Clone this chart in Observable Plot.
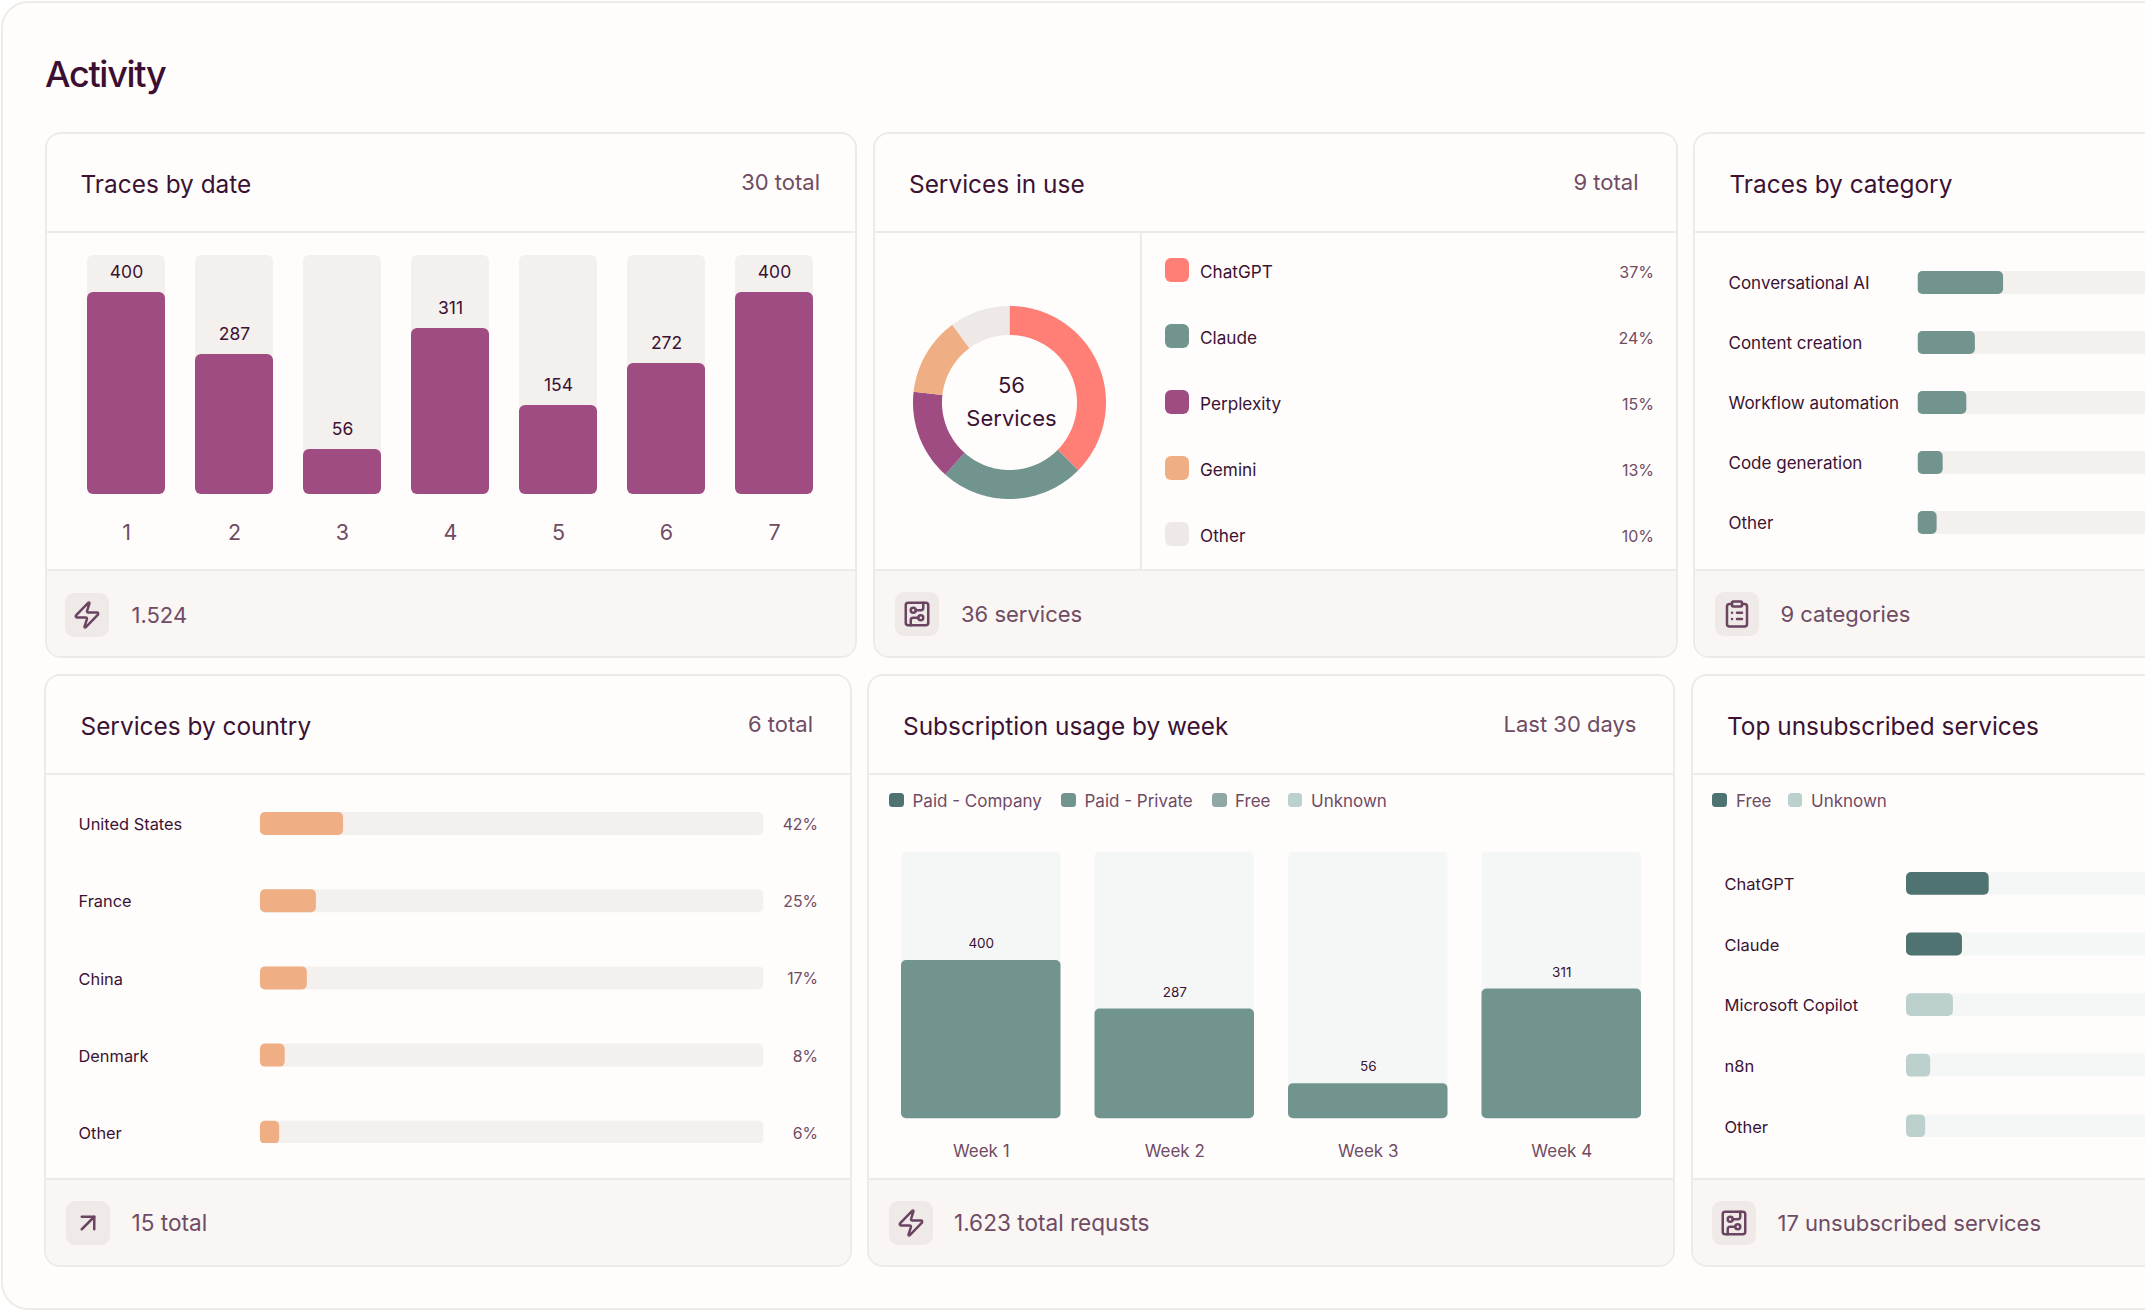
<!DOCTYPE html>
<html lang="en">
<head>
<meta charset="utf-8">
<title>Activity</title>
<script src="https://cdn.jsdelivr.net/npm/d3@7"></script>
<script src="https://cdn.jsdelivr.net/npm/@observablehq/plot@0.6"></script>
<style>
  html, body { margin: 0; padding: 0; width: 2145px; height: 1311px; overflow: hidden; background: #ffffff; }
  body { font-family: Inter, "Noto Sans", sans-serif; color: #3b1233; position: relative; }
  .panel { position: absolute; left: 0.5px; top: 1px; width: 2144.5px; height: 1309px; box-sizing: border-box;
           background: #fffdfb; border: 2px solid #eeeae7; border-right: none; border-radius: 27px 0 0 27px; }
  h1 { position: absolute; left: 45px; top: 50.5px; margin: 0; font-size: 36px; line-height: 46px; font-weight: 500; letter-spacing: -1.3px; color: #3b0f31; }
  .card { position: absolute; box-sizing: border-box; background: #fffdfb; border: 2px solid #eeeae7; border-radius: 16px; overflow: hidden; }
  .card.open { border-right: none; border-radius: 16px 0 0 16px; }
  .footer { position: absolute; left: 0; right: 0; bottom: 0; background: #f9f6f4; border-top: 2px solid #eeeae7; box-sizing: border-box; }
  .rule { position: absolute; left: 0; right: 0; height: 2px; background: #eeeae7; }
  .t { position: absolute; white-space: nowrap; line-height: 1; }
  .title { font-size: 24.4px; color: #3b1233; }
  .note { font-size: 22px; color: #6f4b64; }
  .foot { font-size: 22px; color: #6f4b64; }
  .foot.wide { font-size: 22.6px; }
  .iconbox { position: absolute; width: 44px; height: 44px; border-radius: 9px; background: #efeae8; display: flex; align-items: center; justify-content: center; }
  .iconbox svg { width: 30px; height: 30px; fill: none; stroke: #6a4460; stroke-width: 2; stroke-linecap: round; stroke-linejoin: round; }
  .swatch { position: absolute; }
  .lab { font-size: 17.2px; color: #3b1233; }
  .pct { font-size: 16px; color: #6f4b64; }
  .leg { font-size: 17px; color: #6f4b64; }
  .plot { position: absolute; }
</style>
</head>
<body>
<div class="panel"></div>
<h1>Activity</h1>
<script>
// ---------- data ----------
const dayLabels = ["1", "2", "3", "4", "5", "6", "7"];
const dayValues = [400, 287, 56, 311, 154, 272, 400];
const dayFillPct = [84.5, 58.6, 18.8, 69.5, 37.2, 54.8, 84.5];   // bar height as share of its track

const serviceNames = ["ChatGPT", "Claude", "Perplexity", "Gemini", "Other"];
const serviceShares = [37, 24, 15, 13, 10];
const serviceColors = ["#ff7f77", "#72948f", "#9f4c83", "#efae84", "#eee9e7"];

const categoryNames = ["Conversational AI", "Content creation", "Workflow automation", "Code generation", "Other"];
const categoryFillPct = [17, 11.4, 9.7, 5, 3.8];

const countryNames = ["United States", "France", "China", "Denmark", "Other"];
const countryShares = [42, 25, 17, 8, 6];
const countryFillPct = [16.5, 11.1, 9.3, 4.9, 3.8];

const weekLabels = ["Week 1", "Week 2", "Week 3", "Week 4"];
const weekValues = [400, 287, 56, 311];
const weekFillPct = [59.4, 41.2, 13.2, 48.7];
const usageLegend = ["Paid - Company", "Paid - Private", "Free", "Unknown"];
const usageColors = ["#4f7370", "#72948f", "#8fa8a6", "#bcd0cd"];

const unsubNames = ["ChatGPT", "Claude", "Microsoft Copilot", "n8n", "Other"];
const unsubFillPct = [16.4, 11.1, 9.3, 4.8, 3.8];
const unsubPlans = ["Free", "Free", "Unknown", "Unknown", "Unknown"];
const unsubLegend = ["Free", "Unknown"];
const unsubColors = ["#4f7370", "#bcd0cd"];

// ---------- page furniture ----------
const ICONS = {
  zap: '<path d="M4 14a1 1 0 0 1-.78-1.63l9.9-10.2a.5.5 0 0 1 .86.46l-1.92 6.02A1 1 0 0 0 13 10h7a1 1 0 0 1 .78 1.63l-9.9 10.2a.5.5 0 0 1-.86-.46l1.92-6.02A1 1 0 0 0 11 14z"/>',
  arrow: '<path d="M7 7h10v10"/><path d="M7 17 17 7"/>',
  clip: '<rect x="8" y="2" width="8" height="4" rx="1"/><path d="M16 4h2a2 2 0 0 1 2 2v14a2 2 0 0 1-2 2H6a2 2 0 0 1-2-2V6a2 2 0 0 1 2-2h2"/><path d="M12 11h4"/><path d="M12 16h4"/><path d="M8 11h.01"/><path d="M8 16h.01"/>',
  board: '<rect x="3" y="3" width="18" height="18" rx="2"/><path d="M11 9h4a2 2 0 0 0 2-2V3"/><circle cx="9" cy="9" r="2"/><path d="M7 21v-4a2 2 0 0 1 2-2h4"/><circle cx="15" cy="15" r="2"/>'
};
function text(cls, str, x, cy, right) {
  const d = document.createElement("div");
  d.className = "t " + cls;
  d.textContent = str;
  d.style.top = cy + "px";
  d.style.transform = "translateY(-50%)";
  if (right) d.style.right = (2145 - x) + "px"; else d.style.left = x + "px";
  document.body.appendChild(d);
}
function swatch(x, cy, w, h, r, color) {
  const d = document.createElement("div");
  d.className = "swatch";
  d.style.cssText = `left:${x}px;top:${cy - h / 2}px;width:${w}px;height:${h}px;border-radius:${r}px;background:${color}`;
  document.body.appendChild(d);
}
function card(c) {
  const d = document.createElement("div");
  d.className = "card" + (c.right == null ? " open" : "");
  const right = c.right == null ? 2145 : c.right;
  d.style.cssText = `left:${c.left}px;top:${c.top}px;width:${right - c.left}px;height:${c.bottom - c.top}px`;
  d.innerHTML = `<div class="rule" style="top:${c.headY - c.top - 2}px"></div>
    <div class="footer" style="height:${c.bottom - 2 - c.footY}px"></div>`;
  document.body.appendChild(d);
  text("title", c.title, c.titleX, c.titleY);
  if (c.note) text("note", c.note, c.noteX, c.titleY - 2, true);
  const box = document.createElement("div");
  box.className = "iconbox";
  box.style.left = c.iconX + "px";
  box.style.top = (c.footCy - 22) + "px";
  box.innerHTML = `<svg viewBox="0 0 24 24">${ICONS[c.icon]}</svg>`;
  document.body.appendChild(box);
  text("foot" + (c.wide ? " wide" : ""), c.foot, c.footX, c.footCy);
}
function place(svg, left, top) {
  svg.classList.add("plot");
  svg.style.left = left + "px";
  svg.style.top = top + "px";
  svg.style.background = "transparent";
  document.body.appendChild(svg);
}

// ---------- chart helpers ----------
function columns({labels, values, fill, left, top, width, height, bottom, paddingInner, track, bar, r,
                  valueSize, valueGap, tickSize, tickPad}) {
  const rows = labels.map((k, i) => ({k, v: values[i], f: fill[i]}));
  place(Plot.plot({
    width, height: height + bottom, marginLeft: 0, marginRight: 0, marginTop: 0, marginBottom: bottom,
    style: {fontFamily: "Inter", background: "transparent"},
    x: {type: "band", domain: labels, paddingInner, paddingOuter: 0, round: false, axis: null},
    y: {domain: [0, 100], axis: null},
    marks: [
      Plot.barY(rows, {x: "k", y: () => 100, fill: track, rx: r}),
      Plot.barY(rows, {x: "k", y: "f", fill: bar, rx: r}),
      Plot.text(rows, {x: "k", y: "f", text: d => String(d.v), dy: -valueGap, fill: "#3b1233", fontSize: valueSize}),
      Plot.axisX({anchor: "bottom", tickSize: 0, tickPadding: tickPad, fill: "#6f4b64", fontSize: tickSize, label: null})
    ]
  }), left, top);
}
function hbars({names, fill, pcts, colorBy, domain, range, color, left, top, trackLeft, width, height, paddingInner,
                xMax, track, labelSize, pctSize, pctGap}) {
  const rows = names.map((n, i) => ({n, f: fill[i], p: pcts ? pcts[i] + "%" : null, c: colorBy ? colorBy[i] : null}));
  const marginRight = pctGap || 0;
  const marks = [
    Plot.barX(rows, {y: "n", x: () => 100, fill: track, rx: 5, clip: true}),
    Plot.barX(rows, {y: "n", x: "f", fill: colorBy ? "c" : color, rx: 5, clip: true}),
    Plot.axisY({anchor: "left", tickSize: 0, tickPadding: trackLeft - left, textAnchor: "start", fill: "#3b1233", fontSize: labelSize, label: null, dy: 1})
  ];
  if (pcts) marks.push(Plot.text(rows, {y: "n", text: "p", frameAnchor: "right", dx: pctGap, dy: 1, textAnchor: "end", fill: "#6f4b64", fontSize: pctSize}));
  place(Plot.plot({
    width, height, marginLeft: trackLeft - left, marginRight, marginTop: 0, marginBottom: 0,
    style: {fontFamily: "Inter", background: "transparent"},
    x: {domain: [0, xMax], axis: null},
    y: {type: "band", domain: names, paddingInner, paddingOuter: 0, round: false, axis: null},
    color: colorBy ? {domain, range} : undefined,
    marks
  }), left, top);
}

// ---------- cards ----------
const T1 = 132, B1 = 658, H1 = 231, F1 = 569;
const T2 = 674, B2 = 1266.5, H2 = 773, F2 = 1178;

card({left: 44.5, right: 857, top: T1, bottom: B1, headY: H1, footY: F1, title: "Traces by date", titleX: 80.5, titleY: 184, note: "30 total", noteX: 820, icon: "zap", iconX: 65, footCy: 614.5, foot: "1.524", footX: 131.5});
card({left: 872.5, right: 1678, top: T1, bottom: B1, headY: H1, footY: F1, title: "Services in use", titleX: 909, titleY: 184, note: "9 total", noteX: 1638.5, icon: "board", iconX: 894.5, footCy: 614, foot: "36 services", footX: 961});
card({left: 1692.5, top: T1, bottom: B1, headY: H1, footY: F1, title: "Traces by category", titleX: 1729.5, titleY: 184, icon: "clip", iconX: 1714.5, footCy: 614, foot: "9 categories", footX: 1780.5});
card({left: 44, right: 852, top: T2, bottom: B2, headY: H2, footY: F2, title: "Services by country", titleX: 80.5, titleY: 725.5, note: "6 total", noteX: 813, icon: "arrow", iconX: 65.5, footCy: 1223, foot: "15 total", footX: 131.5, wide: true});
card({left: 867, right: 1675, top: T2, bottom: B2, headY: H2, footY: F2, title: "Subscription usage by week", titleX: 903, titleY: 725.5, note: "Last 30 days", noteX: 1636.5, icon: "zap", iconX: 888.5, footCy: 1223, foot: "1.623 total requsts", footX: 954, wide: true});
card({left: 1691, top: T2, bottom: B2, headY: H2, footY: F2, title: "Top unsubscribed services", titleX: 1727, titleY: 725.5, icon: "board", iconX: 1711.5, footCy: 1223, foot: "17 unsubscribed services", footX: 1777.5});

// divider inside "Services in use"
const divider = document.createElement("div");
divider.style.cssText = "position:absolute;left:1140px;top:232px;width:1.5px;height:338px;background:#eeeae7";
document.body.appendChild(divider);

// Traces by date
columns({labels: dayLabels, values: dayValues, fill: dayFillPct, left: 87.2, top: 255, width: 726, height: 239, bottom: 60,
  paddingInner: 30 / 108, track: "#f4f0ee", bar: "#9f4c83", r: 6, valueSize: 17.5, valueGap: 20, tickSize: 21.5, tickPad: 30.5});

// Services in use: donut through Plot's geo mark, in planar (identity) coordinates
const pieArcs = d3.pie().sort(null).value(d => d)(serviceShares);
const donutSize = 200, outerR = 96.5, innerR = 67.5, mid = donutSize / 2;
const slices = pieArcs.map((a, i) => {
  const n = Math.max(2, Math.ceil((a.endAngle - a.startAngle) * 60));
  const ang = d3.range(n + 1).map(k => a.startAngle + (a.endAngle - a.startAngle) * k / n);
  const ring = [
    ...ang.map(t => [mid + outerR * Math.sin(t), mid - outerR * Math.cos(t)]),
    ...ang.slice().reverse().map(t => [mid + innerR * Math.sin(t), mid - innerR * Math.cos(t)])
  ];
  ring.push(ring[0]);
  return {type: "Feature", properties: {name: serviceNames[i]}, geometry: {type: "Polygon", coordinates: [ring]}};
});
place(Plot.plot({
  width: donutSize, height: donutSize, margin: 0,
  style: {fontFamily: "Inter", background: "transparent"},
  projection: d3.geoIdentity(),
  color: {domain: serviceNames, range: serviceColors},
  marks: [
    Plot.geo(slices, {fill: d => d.properties.name}),
    Plot.text(["56"], {frameAnchor: "middle", text: d => d, dy: -17, dx: 2, fontSize: 22, fill: "#3b1233"}),
    Plot.text(["Services"], {frameAnchor: "middle", text: d => d, dy: 16, dx: 2, fontSize: 22, fill: "#3b1233"})
  ]
}), 908.7, 301.5);

serviceNames.forEach((n, i) => {
  const cy = 270 + i * 66;
  swatch(1164.5, cy, 24, 24, 6, serviceColors[i]);
  text("lab", n, 1200, cy + 1.5);
  text("pct", serviceShares[i] + "%", 1654, cy + 1.5, true);
});

// Traces by category
hbars({names: categoryNames, fill: categoryFillPct, color: "#72948f", left: 1727.5, top: 270.5, trackLeft: 1917, width: 2145 - 1727.5, height: 263,
  paddingInner: 37 / 60, xMax: 45.3, track: "#f4f0ee", labelSize: 17});

// Services by country
hbars({names: countryNames, fill: countryFillPct, pcts: countryShares, color: "#efae84", left: 78, top: 811.5, trackLeft: 260, width: 817.5 - 78, height: 331.8,
  paddingInner: 54.2 / 77.2, xMax: 100, track: "#f4f0ee", labelSize: 16.4, pctSize: 15.8, pctGap: 54});

// Subscription usage by week
[[889, 912.5], [1061, 1084.5], [1212, 1235], [1287.5, 1311]].forEach(([sx, tx], i) => {
  swatch(sx, 800, 14.5, 14.5, 3.5, usageColors[i]);
  text("leg", usageLegend[i], tx, 801);
});
columns({labels: weekLabels, values: weekValues, fill: weekFillPct, left: 900.5, top: 852, width: 740, height: 266.3, bottom: 50,
  paddingInner: 34 / 193.6, track: "#f5f7f7", bar: "#72948f", r: 5, valueSize: 13.5, valueGap: 16.5, tickSize: 17, tickPad: 26});

// Top unsubscribed services
[[1712, 1736], [1787.5, 1811]].forEach(([sx, tx], i) => {
  swatch(sx, 800, 14.5, 14.5, 3.5, unsubColors[i]);
  text("leg", unsubLegend[i], tx, 801);
});
hbars({names: unsubNames, fill: unsubFillPct, colorBy: unsubPlans, domain: unsubLegend, range: unsubColors, left: 1723.5, top: 871.7, trackLeft: 1905.5, width: 2145 - 1723.5, height: 265.2,
  paddingInner: 37.8 / 60.6, xMax: 47.5, track: "#f5f7f7", labelSize: 16.5});
</script>
</body>
</html>
